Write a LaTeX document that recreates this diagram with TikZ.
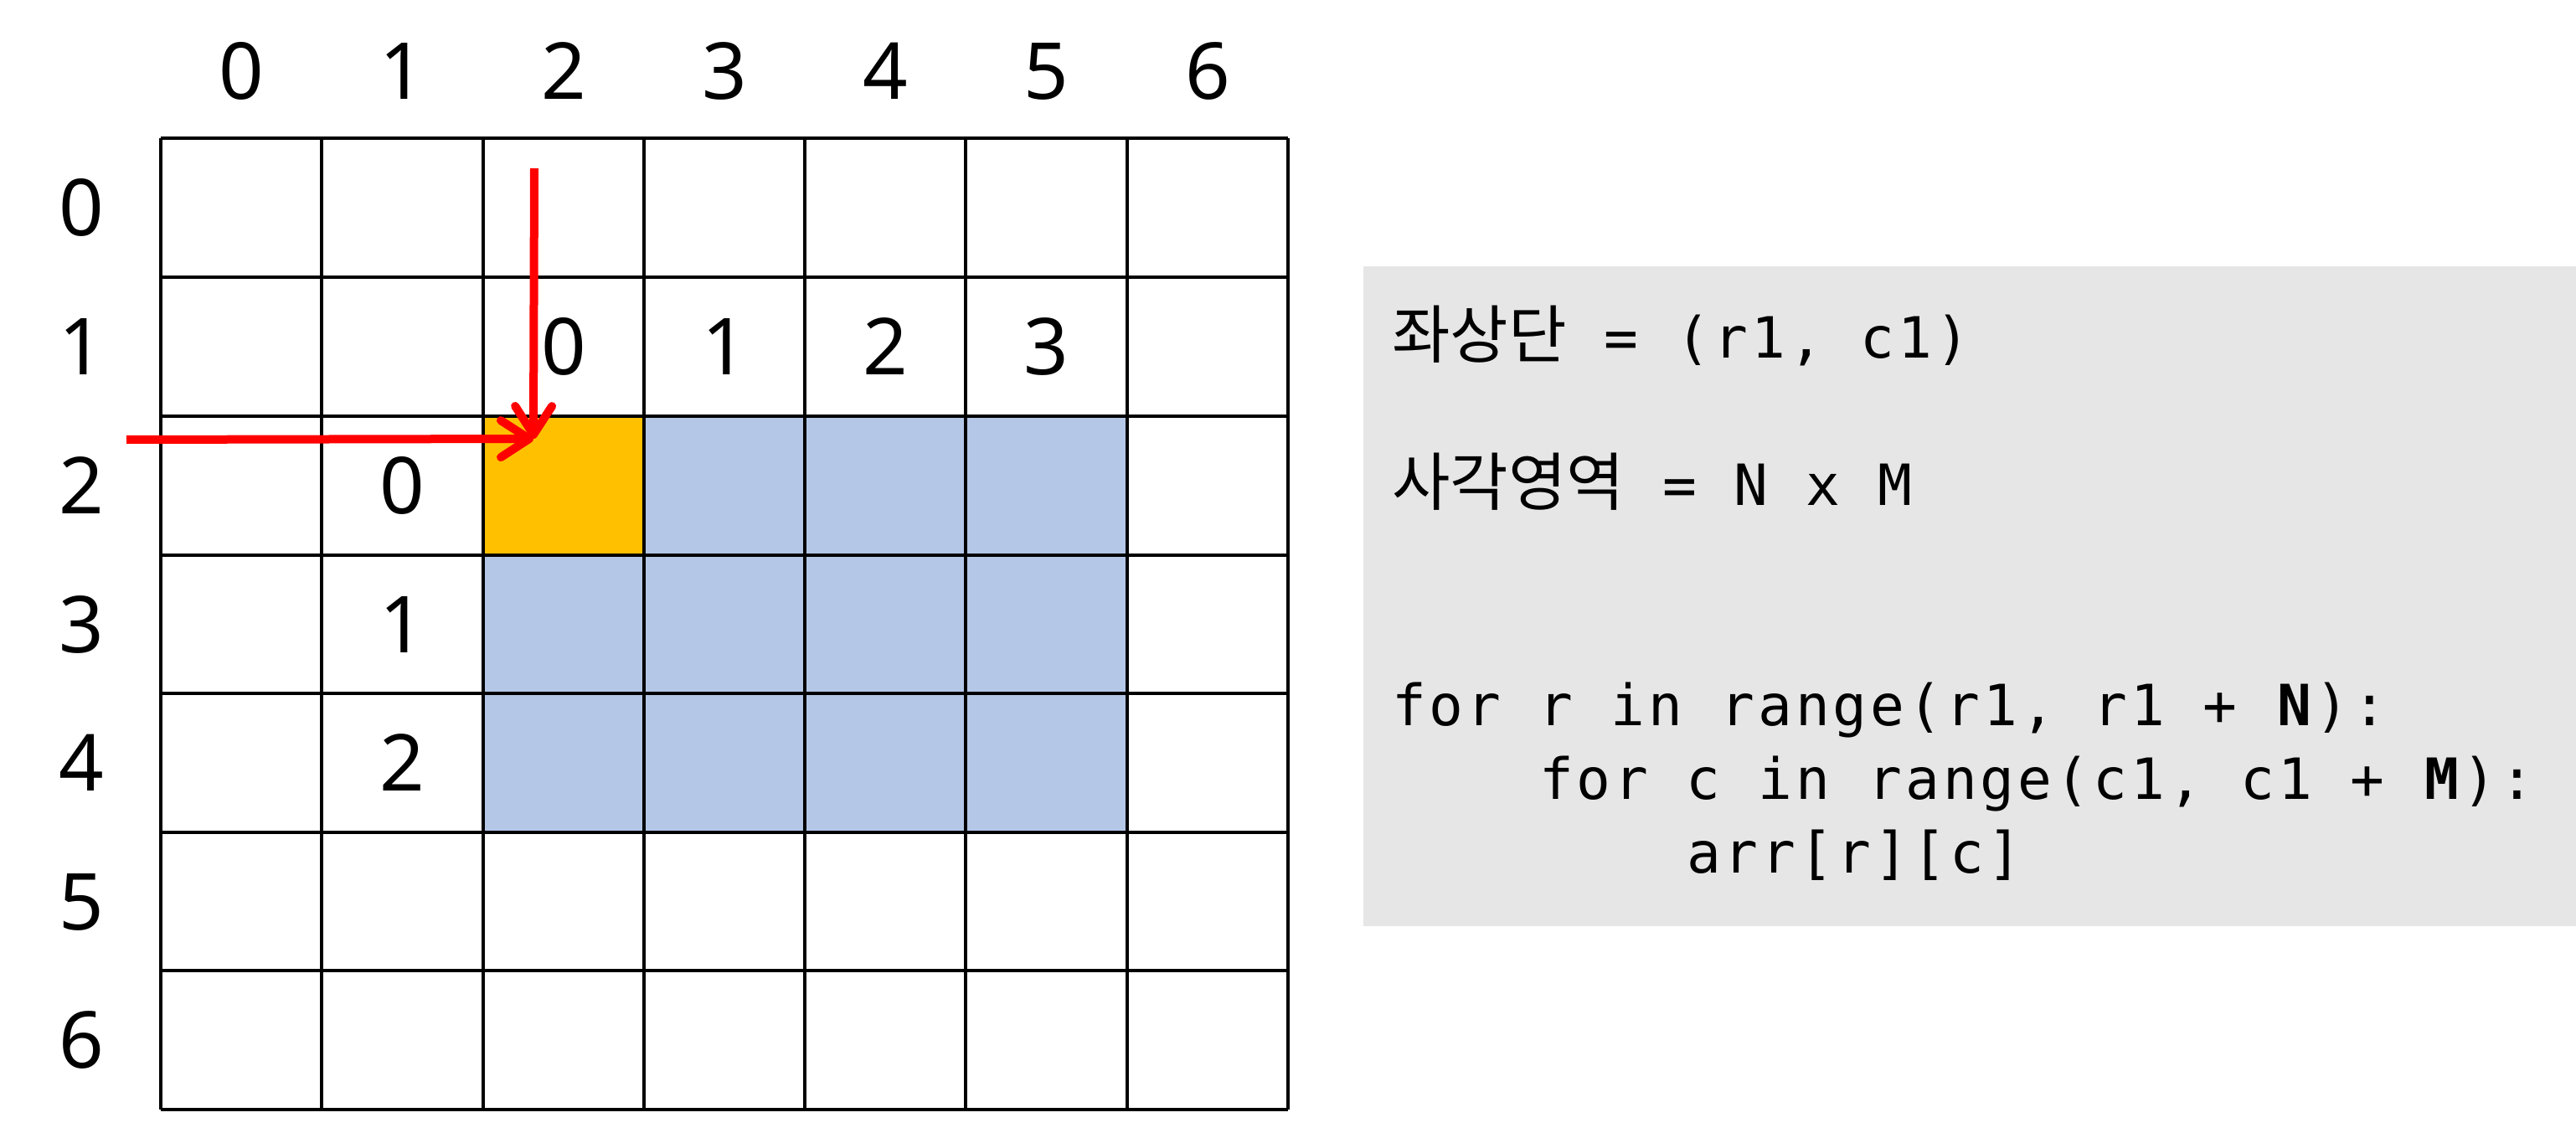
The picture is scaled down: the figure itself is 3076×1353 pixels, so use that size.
\documentclass[tikz,border=0pt]{standalone}
\usepackage{fontspec}
\setmainfont{Noto Sans}
\newfontfamily\korfont{Noto Sans CJK KR}
\newfontfamily\codefont[LetterSpace=6]{DejaVu Sans Mono}
\newcommand\codespacing{\spaceskip 4.5mm\relax}
\usetikzlibrary{arrows.meta}
\definecolor{cellblue}{HTML}{B4C7E7}
\definecolor{cellorange}{HTML}{FFC000}
\definecolor{boxgray}{HTML}{E7E6E6}
\definecolor{arrowred}{HTML}{FF0000}

\begin{document}
\begin{tikzpicture}[x=0.1mm,y=-0.1mm,line width=.4mm,
  idx/.style={inner sep=0pt,font=\fontsize{26.7}{32}\selectfont},
  codeline/.style={anchor=base west,inner sep=0pt,font={\codefont\fontsize{19.3}{23}\selectfont\codespacing}},
  gridline/.style={black,line width=.4mm},
  redarrow/.style={arrowred,line width=1mm,-{Straight Barb[length=3.4mm,width=4.4mm,round]}}]
\path[use as bounding box] (0,0) rectangle (3076,1353);
% code panel
\fill[boxgray] (1628,318) rectangle (3076,1106);
% marked cells
\fill[cellblue] (769,497) rectangle (1346,663);
\fill[cellblue] (577,663) rectangle (1346,994);
\fill[cellorange] (577,497) rectangle (769,663);
% grid
\draw[gridline] (192,165) -- (192,1325);
\draw[gridline] (384,165) -- (384,1325);
\draw[gridline] (577,165) -- (577,1325);
\draw[gridline] (769,165) -- (769,1325);
\draw[gridline] (961,165) -- (961,1325);
\draw[gridline] (1153,165) -- (1153,1325);
\draw[gridline] (1346,165) -- (1346,1325);
\draw[gridline] (1538,165) -- (1538,1325);
\draw[gridline] (192,165) -- (1538,165);
\draw[gridline] (192,331) -- (1538,331);
\draw[gridline] (192,497) -- (1538,497);
\draw[gridline] (192,663) -- (1538,663);
\draw[gridline] (192,828) -- (1538,828);
\draw[gridline] (192,994) -- (1538,994);
\draw[gridline] (192,1159) -- (1538,1159);
\draw[gridline] (192,1325) -- (1538,1325);
% column numbers
\node[idx] (col0) at (288,85) {0};
\node[idx] (col1) at (480,85) {1};
\node[idx] (col2) at (673,85) {2};
\node[idx] (col3) at (865,85) {3};
\node[idx] (col4) at (1057,85) {4};
\node[idx] (col5) at (1249,85) {5};
\node[idx] (col6) at (1442,85) {6};
% row numbers
\node[idx] (row0) at (97,248) {0};
\node[idx] (row1) at (97,414) {1};
\node[idx] (row2) at (97,580) {2};
\node[idx] (row3) at (97,746) {3};
\node[idx] (row4) at (97,911) {4};
\node[idx] (row5) at (97,1077) {5};
\node[idx] (row6) at (97,1242) {6};
% local indices of the block
\node[idx] (sub-c0) at (673,414) {0};
\node[idx] (sub-c1) at (865,414) {1};
\node[idx] (sub-c2) at (1057,414) {2};
\node[idx] (sub-c3) at (1249,414) {3};
\node[idx] (sub-r0) at (480,580) {0};
\node[idx] (sub-r1) at (480,746) {1};
\node[idx] (sub-r2) at (480,911) {2};
% arrows to the upper left corner
\coordinate (corner) at (637,524);
\coordinate (fromtop) at (638,201);
\coordinate (fromleft) at (151,525);
\draw[redarrow] (fromtop) -- (corner);
\draw[redarrow] (fromleft) -- (corner);
% code text
\node[codeline] (topleft) at (1660,428) {{\korfont\fontsize{21.5}{25}\selectfont 좌상단} = (r1, c1)};
\node[codeline] (area) at (1660,604) {{\korfont\fontsize{21.5}{25}\selectfont 사각영역} = N x M};
\node[codeline] (outer) at (1660,866) {for r in range(r1, r1 + \textbf{N}):};
\node[codeline] (inner) at (1836,954) {for c in range(c1, c1 + \textbf{M}):};
\node[codeline] (access) at (2012,1042) {arr[r][c]};
\end{tikzpicture}
\end{document}
